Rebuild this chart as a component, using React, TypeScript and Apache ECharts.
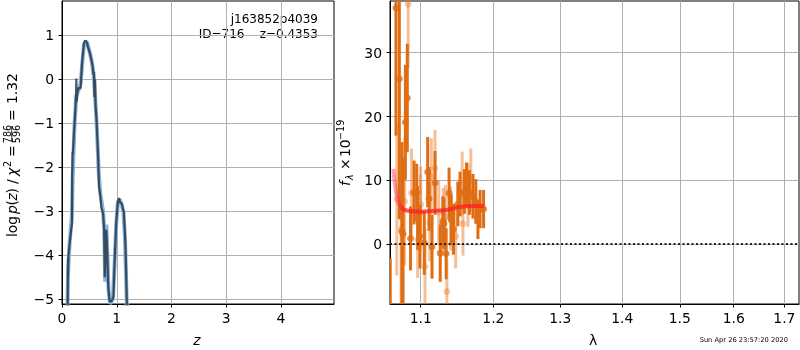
import React, { useEffect, useRef } from 'react';
import * as echarts from 'echarts';

// ---- left panel: log p(z) vs z ----
const pzDark: [number, number][] = [
  [0.099, -5.4], [0.105, -4.9], [0.11, -4.05], [0.112, -4.5], [0.118, -4.0], [0.14, -3.73], [0.165, -3.45],
  [0.183, -3.27], [0.186, -2.1], [0.19, -2.06], [0.193, -1.65], [0.2, -1.7], [0.215, -1.3], [0.244, -0.7],
  [0.255, -0.35], [0.262, 0.02], [0.27, -0.5], [0.28, -0.3], [0.305, -0.2], [0.34, -0.2], [0.365, 0.36],
  [0.4, 0.82], [0.427, 0.88], [0.46, 0.82], [0.47, 0.75], [0.49, 0.67], [0.52, 0.55], [0.545, 0.4],
  [0.56, 0.3], [0.575, 0.1], [0.585, 0.17], [0.59, -0.4], [0.6, -0.2], [0.605, 0.0], [0.612, -0.6],
  [0.628, -0.85], [0.66, -1.76], [0.676, -2.44], [0.69, -2.55], [0.7, -2.65], [0.72, -2.93], [0.74, -3.0],
  [0.75, -3.05], [0.77, -3.42], [0.78, -4.5], [0.79, -4.2], [0.8, -3.6], [0.81, -3.42], [0.83, -4.03],
  [0.84, -4.6], [0.86, -4.94], [0.87, -5.05], [0.9, -5.05], [0.92, -5.0], [0.94, -4.94], [0.96, -4.18],
  [0.99, -3.27], [1.02, -2.78], [1.04, -2.7], [1.06, -2.8], [1.08, -2.81], [1.1, -2.85], [1.115, -2.97],
  [1.13, -3.0], [1.158, -3.73], [1.17, -4.3], [1.19, -5.4],
];
const pzSmooth: [number, number][] = [
  [0.099, -5.4], [0.11, -4.4], [0.14, -3.7], [0.18, -3.1], [0.2, -2.0], [0.23, -1.0], [0.26, -0.4],
  [0.3, -0.25], [0.34, -0.1], [0.37, 0.35], [0.4, 0.78], [0.43, 0.87], [0.46, 0.83], [0.5, 0.65],
  [0.55, 0.35], [0.58, 0.05], [0.61, -0.5], [0.64, -1.2], [0.67, -2.1], [0.7, -2.6], [0.75, -3.0],
  [0.77, -3.4], [0.79, -4.6], [0.81, -3.3], [0.83, -4.0], [0.85, -4.8], [0.88, -5.1], [0.93, -5.0],
  [0.96, -4.2], [0.99, -3.3], [1.02, -2.8], [1.05, -2.72], [1.09, -2.85], [1.12, -3.0], [1.15, -3.6],
  [1.19, -5.4],
];
const zTicks = [0, 1, 2, 3, 4];
const logpTicks = [-5, -4, -3, -2, -1, 0, 1];

// ---- right panel: spectrum (lambda, flux, error) ----
const specDark: [number, number, number][] = [
  [1.0606, -15, 12.8], [1.0679, 37.0, 20], [1.0722, 25.9, 22], [1.0755, 2.0, 14], [1.077, 1.6, 12],
  [1.08, 19.1, 9], [1.0825, 22.9, 8.5], [1.0867, 0.9, 5], [1.0913, 8.1, 5], [1.0948, 8.1, 4.5],
  [1.096, 4.1, 5], [1.099, 1.2, 5], [1.1047, 0.2, 5], [1.1092, 11.3, 5.5], [1.111, 7.1, 5],
  [1.115, -0.4, 5], [1.119, 9.6, 5], [1.126, -1.4, 4.5], [1.1295, 3.5, 4], [1.131, 3.2, 4],
  [1.134, -1.5, 4], [1.138, 8.0, 4], [1.141, 3.8, 4], [1.144, 2.35, 4], [1.15, 6.3, 3.5],
  [1.153, 7.85, 3.5], [1.159, 8.26, 3.5], [1.162, 9.3, 3.5], [1.166, 8.1, 3.5], [1.171, 7.5, 3.5],
  [1.175, 6.7, 3.5], [1.178, 3.8, 3], [1.181, 5.5, 3], [1.186, 5.5, 3],
];
const specLight: [number, number, number][] = [
  [1.0836, 37.6, 10], [1.069, 7.1, 12], [1.0745, 2.4, 12], [1.079, 6.7, 10], [1.088, 8.0, 7],
  [1.096, 0.7, 6], [1.0995, 4.9, 6], [1.1, 6.2, 6], [1.1057, -3.5, 6], [1.112, 3.3, 6],
  [1.114, 10.6, 6], [1.119, 11.9, 6], [1.124, 5.0, 5], [1.13, 3.8, 5], [1.133, 4.3, 5],
  [1.135, -7.4, 5], [1.14, 4.0, 5], [1.147, 1.2, 5], [1.156, 9.5, 5], [1.157, 3.2, 5],
  [1.164, 7.7, 5], [1.168, 10.0, 5],
];
const modelFit: [number, number][] = [
  [1.0645, 11.8], [1.0693, 7.5], [1.0753, 5.65], [1.086, 5.2], [1.0991, 5.1], [1.1157, 5.2],
  [1.1335, 5.35], [1.1513, 5.8], [1.17, 6.0], [1.1865, 6.0],
];
const lamTicks = [1.1, 1.2, 1.3, 1.4, 1.5, 1.6, 1.7];
const fluxTicks = [0, 10, 20, 30];

const FONT = 'DejaVu Sans';
const DARK = '#df6d14';
const LIGHT = 'rgba(235,130,50,0.5)';
const fmtMinus = (v: number) => (v < 0 ? '\u2212' + Math.abs(v) : String(v));

const axisBase = (ticks: number[], fmt: (v: number) => string, margin: number) => ({
  type: 'value' as const,
  axisLine: { show: true, onZero: false, lineStyle: { color: '#000', width: 1 } },
  axisTick: { show: true, inside: false, length: 3.5, customValues: ticks, lineStyle: { color: '#000', width: 1 } },
  axisLabel: { customValues: ticks, color: '#000', fontSize: 13.9, fontFamily: FONT, margin, formatter: fmt },
  splitLine: { show: true, lineStyle: { color: '#b0b0b0', width: 1 } },
});

const txt = (x: number, y: number, text: string, size: number, align: string, extra: any = {}) => ({
  type: 'text',
  x,
  y,
  style: {
    text,
    fontSize: size,
    fontFamily: FONT,
    fill: '#000',
    align,
    textAlign: align,
    verticalAlign: 'middle',
    textVerticalAlign: 'middle',
    ...extra,
  },
});

export default function App() {
  const ref = useRef<HTMLDivElement>(null);
  useEffect(() => {
    if (!ref.current) return;
    const chart = echarts.init(ref.current, undefined, { renderer: 'svg' });
    const lnTicks = lamTicks.map((l) => Math.log(l));
    const errRender = (color: string) => (params: any, api: any) => {
      const x = api.value(0);
      const y = api.value(1);
      const e = api.value(2);
      const p1 = api.coord([x, y - e]);
      const p2 = api.coord([x, y + e]);
      return {
        type: 'line',
        shape: { x1: p1[0], y1: p1[1], x2: p2[0], y2: p2[1] },
        style: { stroke: color, lineWidth: 3 },
      };
    };
    const toLn = (arr: [number, number, number][]) => arr.map(([l, f, e]) => [Math.log(l), f, e]);

    chart.setOption({
      animation: false,
      grid: [
        { left: 62, top: 1, width: 272, height: 303, show: true, borderColor: '#000', borderWidth: 1 },
        { left: 390, top: 1, width: 409, height: 303, show: true, borderColor: '#000', borderWidth: 1 },
      ],
      xAxis: [
        { ...axisBase(zTicks, fmtMinus, 7), gridIndex: 0, min: 0, max: 4.968 },
        {
          ...axisBase(lnTicks, (v: number) => Math.exp(v).toFixed(1), 7),
          gridIndex: 1,
          min: Math.log(1.0603),
          max: Math.log(1.73),
        },
      ],
      yAxis: [
        { ...axisBase(logpTicks, fmtMinus, 8), gridIndex: 0, min: -5.107, max: 1.78 },
        { ...axisBase(fluxTicks, fmtMinus, 8), gridIndex: 1, min: -9.37, max: 38.1 },
      ],
      series: [
        {
          type: 'line', xAxisIndex: 0, yAxisIndex: 0, data: pzSmooth, showSymbol: false, symbol: 'none',
          lineStyle: { color: '#86b6de', width: 4 }, z: 2,
        },
        {
          type: 'line', xAxisIndex: 0, yAxisIndex: 0, data: pzDark, showSymbol: false, symbol: 'none',
          lineStyle: { color: 'rgba(35,45,58,0.78)', width: 2.2 }, z: 3,
        },
        {
          type: 'custom', xAxisIndex: 1, yAxisIndex: 1, data: toLn(specLight), renderItem: errRender(LIGHT),
          clip: true, encode: { x: 0, y: 1 }, z: 2,
        },
        {
          type: 'scatter', xAxisIndex: 1, yAxisIndex: 1, data: toLn(specLight).map((d) => [d[0], d[1]]),
          symbolSize: 7, itemStyle: { color: LIGHT }, clip: true, z: 2,
        },
        {
          type: 'custom', xAxisIndex: 1, yAxisIndex: 1, data: toLn(specDark), renderItem: errRender(DARK),
          clip: true, encode: { x: 0, y: 1 }, z: 3,
        },
        {
          type: 'scatter', xAxisIndex: 1, yAxisIndex: 1, data: toLn(specDark).map((d) => [d[0], d[1]]),
          symbolSize: 7, itemStyle: { color: DARK }, clip: true, z: 3,
        },
        {
          type: 'line', xAxisIndex: 1, yAxisIndex: 1, data: modelFit.map(([l, f]) => [Math.log(l), f]),
          smooth: 0.4, showSymbol: false, symbol: 'none', z: 5,
          lineStyle: {
            width: 4,
            color: new echarts.graphic.LinearGradient(0, 0, 1, 0, [
              { offset: 0, color: 'rgba(255,120,140,0.7)' },
              { offset: 0.1, color: 'rgba(255,30,30,0.75)' },
              { offset: 1, color: 'rgba(255,30,30,0.75)' },
            ]),
          },
          markLine: {
            silent: true, symbol: 'none', label: { show: false },
            lineStyle: { color: '#222', width: 2, type: [2, 2.5], opacity: 1 },
            data: [{ yAxis: 0 }],
          },
        },
      ],
      graphic: [
        txt(318, 19, 'j163852p4039', 12, 'right'),
        txt(318, 34, 'ID=716    z=0.4353', 12, 'right'),
        txt(197, 340, 'z', 13.9, 'center', { fontStyle: 'italic' }),
        txt(593, 340, '\u03bb', 13.9, 'center'),
        txt(788, 340, 'Sun Apr 26 23:57:20 2020', 6.7, 'right'),
        {
          type: 'group',
          x: 12,
          y: 237,
          rotation: Math.PI / 2,
          children: [
            txt(0, 0, 'log', 13.9, 'left'),
            txt(23, 0, 'p', 13.9, 'left', { fontStyle: 'italic' }),
            txt(31.5, 0, '(', 13.9, 'left'),
            txt(36.5, 0, 'z', 13.9, 'left', { fontStyle: 'italic' }),
            txt(43.5, 0, ')', 13.9, 'left'),
            txt(53, 0, '/', 13.9, 'left'),
            txt(61, 0, '\u03c7', 13.9, 'left', { fontStyle: 'italic' }),
            txt(70, -5, '2', 9.7, 'left'),
            txt(80, 0, '=', 13.9, 'left'),
            txt(103, -4.5, '786', 9.7, 'center'),
            txt(103, 4, '596', 9.7, 'center'),
            { type: 'line', shape: { x1: 95, y1: -0.3, x2: 111, y2: -0.3 }, style: { stroke: '#000', lineWidth: 0.8 } },
            txt(116, 0, '=', 13.9, 'left'),
            txt(133, 0, '1.32', 13.9, 'left'),
          ],
        },
        {
          type: 'group',
          x: 345,
          y: 186,
          rotation: Math.PI / 2,
          children: [
            txt(0, 0, 'f', 13.9, 'left', { fontStyle: 'italic' }),
            txt(6, 4, '\u03bb', 9.7, 'left', { fontStyle: 'italic' }),
            txt(16, 0, '\u00d7', 13.9, 'left'),
            txt(29, 0, '10', 13.9, 'left'),
            txt(46, -5, '\u221219', 9.7, 'left'),
          ],
        },
      ],
    });
    return () => chart.dispose();
  }, []);
  return <div ref={ref} style={{ position: 'fixed', left: 0, top: 0, width: 800, height: 350 }} />;
}
